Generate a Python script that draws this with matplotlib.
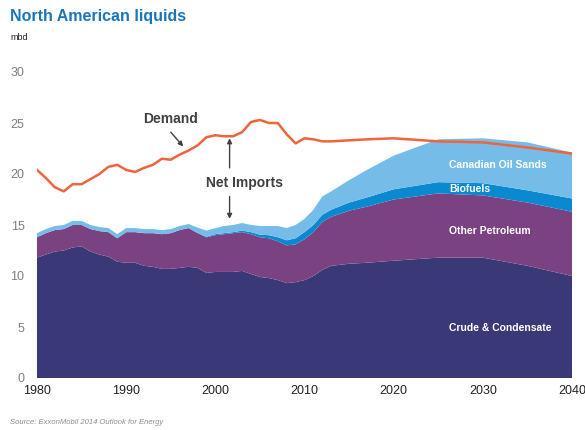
import matplotlib
matplotlib.use("Agg")
import matplotlib.pyplot as plt
import numpy as np

plt.rcParams['font.family'] = ['Liberation Sans', 'DejaVu Sans']

years = [1980, 1981, 1982, 1983, 1984, 1985, 1986, 1987, 1988, 1989,
         1990, 1991, 1992, 1993, 1994, 1995, 1996, 1997, 1998, 1999,
         2000, 2001, 2002, 2003, 2004, 2005, 2006, 2007, 2008, 2009,
         2010, 2011, 2012, 2013, 2015, 2017, 2020, 2025, 2030, 2035, 2040]

crude = [11.8, 12.1, 12.4, 12.5, 12.8, 12.9, 12.4, 12.1, 11.9, 11.4,
         11.3, 11.3, 11.0, 10.9, 10.7, 10.7, 10.8, 10.9, 10.8, 10.3,
         10.4, 10.4, 10.4, 10.5, 10.2, 9.9, 9.8, 9.6, 9.3, 9.4,
         9.6, 10.0, 10.6, 11.0, 11.2, 11.3, 11.5, 11.8, 11.8, 11.0, 10.0]

other_petroleum = [2.0, 2.1, 2.1, 2.1, 2.2, 2.1, 2.2, 2.3, 2.4, 2.3,
                   3.0, 3.0, 3.2, 3.3, 3.4, 3.5, 3.7, 3.8, 3.4, 3.5,
                   3.6, 3.7, 3.8, 3.8, 3.9, 3.9, 3.9, 3.8, 3.7, 3.7,
                   4.0, 4.3, 4.7, 4.8, 5.2, 5.5, 6.0, 6.3, 6.1, 6.2, 6.3]

biofuels = [0.0, 0.0, 0.0, 0.0, 0.0, 0.0, 0.0, 0.0, 0.0, 0.0,
            0.0, 0.0, 0.0, 0.0, 0.0, 0.0, 0.0, 0.0, 0.05, 0.05,
            0.1, 0.1, 0.1, 0.15, 0.2, 0.25, 0.3, 0.4, 0.5, 0.6,
            0.7, 0.7, 0.7, 0.7, 0.8, 0.9, 1.0, 1.1, 1.2, 1.2, 1.3]

oil_sands = [0.4, 0.4, 0.4, 0.4, 0.4, 0.4, 0.4, 0.4, 0.4, 0.4,
             0.4, 0.4, 0.4, 0.4, 0.4, 0.4, 0.4, 0.4, 0.5, 0.6,
             0.6, 0.7, 0.7, 0.75, 0.7, 0.85, 0.9, 1.1, 1.2, 1.3,
             1.3, 1.5, 1.8, 1.8, 2.2, 2.7, 3.3, 4.2, 4.4, 4.7, 4.5]

demand = [20.4, 19.6, 18.7, 18.3, 19.0, 19.0, 19.5, 20.0, 20.7, 20.9,
          20.4, 20.2, 20.6, 20.9, 21.5, 21.4, 21.9, 22.3, 22.8, 23.6,
          23.8, 23.7, 23.7, 24.1, 25.1, 25.3, 25.0, 25.0, 23.9, 23.0,
          23.5, 23.4, 23.2, 23.2, 23.3, 23.4, 23.5, 23.2, 23.1, 22.6, 22.0]

x_ticks = [1980, 1990, 2000, 2010, 2020, 2030, 2040]
y_ticks = [0, 5, 10, 15, 20, 25, 30]

series_labels = ["Crude & Condensate", "Other Petroleum", "Biofuels", "Canadian Oil Sands"]
colors = ["#3B3878", "#7B4281", "#0A88D0", "#75BDE8"]

fig = plt.figure(figsize=(5.85, 4.30), dpi=100)
ax = fig.add_axes([37/585, 52/430, 535/585, 306/430])

ax.stackplot(years, crude, other_petroleum, biofuels, oil_sands,
             colors=colors, linewidth=0)
ax.plot(years, demand, color="#F0643A", linewidth=1.8)

ax.set_xlim(1980, 2040)
ax.set_ylim(0, 30)
ax.set_xticks(x_ticks)
ax.set_yticks(y_ticks)
for s in ax.spines.values():
    s.set_visible(False)
ax.tick_params(axis='both', length=0)
ax.tick_params(axis='y', labelsize=9, labelcolor="#7F7F7F", pad=9)
ax.tick_params(axis='x', labelsize=9, labelcolor="#222222", pad=5)

# series labels
lab_x = 2026.2
lab_kw = dict(color="white", fontsize=7.5, fontweight="bold", va="center", ha="left")
ax.text(lab_x, 20.9, series_labels[3], **lab_kw)
ax.text(lab_x, 18.5, series_labels[2], **lab_kw)
ax.text(lab_x, 14.4, series_labels[1], **lab_kw)
ax.text(lab_x, 4.9, series_labels[0], **lab_kw)

# annotations
ann_col = "#404040"
ax.text(1995.0, 25.4, "Demand", color=ann_col, fontsize=10, fontweight="bold",
        ha="center", va="center")
ax.annotate("", xy=(1996.4, 22.7), xytext=(1995.0, 24.1),
            arrowprops=dict(arrowstyle="-|>", color=ann_col, lw=1.0,
                            mutation_scale=7, shrinkA=0, shrinkB=0))
ax.text(2003.3, 19.15, "Net Imports", color=ann_col, fontsize=10, fontweight="bold",
        ha="center", va="center")
ax.annotate("", xy=(2001.6, 23.5), xytext=(2001.6, 20.6),
            arrowprops=dict(arrowstyle="-|>", color=ann_col, lw=1.0,
                            mutation_scale=7, shrinkA=0, shrinkB=0))
ax.annotate("", xy=(2001.6, 15.6), xytext=(2001.6, 17.8),
            arrowprops=dict(arrowstyle="-|>", color=ann_col, lw=1.0,
                            mutation_scale=7, shrinkA=0, shrinkB=0))

fig.text(10/585, 1 - 17/430, "North American liquids", color="#1A75BC",
         fontsize=11.5, fontweight="bold", ha="left", va="center")
fig.text(10/585, 1 - 38/430, "mbd", color="#222222", fontsize=6.5,
         ha="left", va="center")
fig.text(10/585, 1 - 422/430, "Source: ExxonMobil 2014 Outlook for Energy",
         color="#8C8C8C", fontsize=5.5, style="italic", ha="left", va="center")

fig.savefig("out.png", dpi=100)
